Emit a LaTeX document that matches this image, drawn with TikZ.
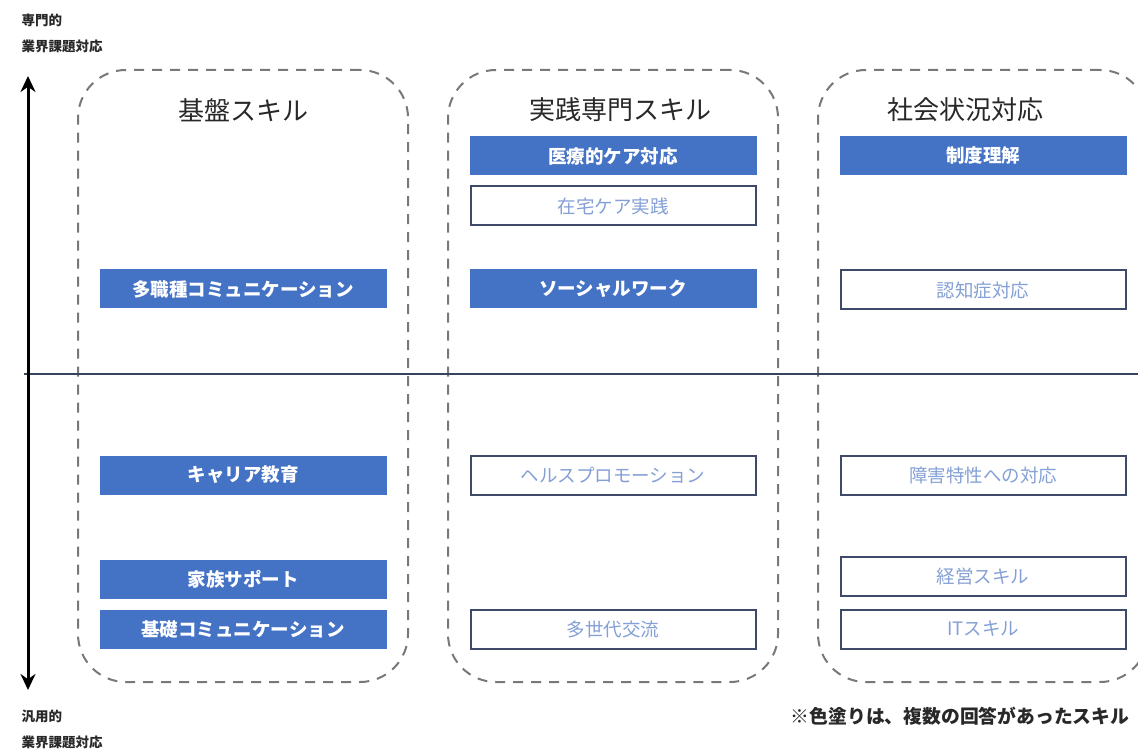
\documentclass[tikz,border=0pt]{standalone}
\usepackage{fontspec}
\setmainfont{Noto Sans CJK JP}
\usepackage{tikz}
\usetikzlibrary{arrows.meta,positioning,calc}
\usepackage{xcolor}
\definecolor{skillblue}{RGB}{68,114,196}
\definecolor{skillline}{RGB}{62,74,104}
\definecolor{skilltext}{RGB}{132,160,214}
\definecolor{dashgray}{RGB}{120,120,120}
\definecolor{labelgray}{RGB}{40,40,40}

\begin{document}
\begin{tikzpicture}[x=1pt, y=-1pt, >={Stealth[length=16pt,width=15pt]},
  colbox/.style={draw=dashgray, line width=2pt, dash pattern=on 10pt off 8pt,
    rounded corners=48pt, minimum width=330pt, minimum height=612pt, inner sep=0pt},
  coltitle/.style={font=\fontsize{26}{28}\selectfont, text=labelgray},
  skillfill/.style={fill=skillblue, minimum width=287pt, minimum height=39pt,
    inner sep=0pt, text=white, font=\bfseries\fontsize{18.5}{20}\selectfont},
  skillopen/.style={draw=skillline, line width=2pt, fill=white, minimum width=285pt,
    minimum height=39pt, inner sep=0pt, text=skilltext, font=\fontsize{18.5}{20}\selectfont},
  sidetag/.style={font=\bfseries\fontsize{13.5}{26}\selectfont, text=labelgray,
    align=left, anchor=west}]
\useasboundingbox (0,0) rectangle (1138,751);
% dashed columns
\node[colbox] (kiban) at (243,376) {};
\node[colbox] (jissen) at (613,376) {};
\node[colbox] (shakai) at (983,376) {};
\node[coltitle] (t1) at (243,110) {基盤スキル};
\node[coltitle] (t2) at (620,110) {実践専門スキル};
\node[coltitle] (t3) at (965,110) {社会状況対応};
% axes
\coordinate (up) at (28,76);
\coordinate (down) at (28,690);
\coordinate (midl) at (24,374);
\coordinate (midr) at (1138,374);
\draw[skillline!90!black, line width=1.6pt] (midl) -- (midr);
\draw[<->, line width=3pt] (down) -- (up);
\node[sidetag] (senmon) at (18,33) {専門的\\業界課題対応};
\node[sidetag] (hanyo) at (18,729) {汎用的\\業界課題対応};
% skills
\node[skillfill] (tashoku) at (243,289) {多職種コミュニケーション};
\node[skillfill] (career) at (243,475) {キャリア教育};
\node[skillfill] (kazoku) at (243,579) {家族サポート};
\node[skillfill] (kiso) at (243,629) {基礎コミュニケーション};
\node[skillfill] (iryo) at (613,156) {医療的ケア対応};
\node[skillopen] (zaitaku) at (613,206) {在宅ケア実践};
\node[skillfill] (social) at (613,289) {ソーシャルワーク};
\node[skillopen] (health) at (613,475) {ヘルスプロモーション};
\node[skillopen] (tasedai) at (613,629) {多世代交流};
\node[skillfill] (seido) at (983,156) {制度理解};
\node[skillopen] (ninchi) at (983,290) {認知症対応};
\node[skillopen] (shogai) at (983,475) {障害特性への対応};
\node[skillopen] (keiei) at (983,576) {経営スキル};
\node[skillopen] (it) at (983,629) {ITスキル};
\node[font=\bfseries\fontsize{18.8}{20}\selectfont, text=labelgray] (note) at (960,716)
  {※色塗りは、複数の回答があったスキル};
\end{tikzpicture}
\end{document}
